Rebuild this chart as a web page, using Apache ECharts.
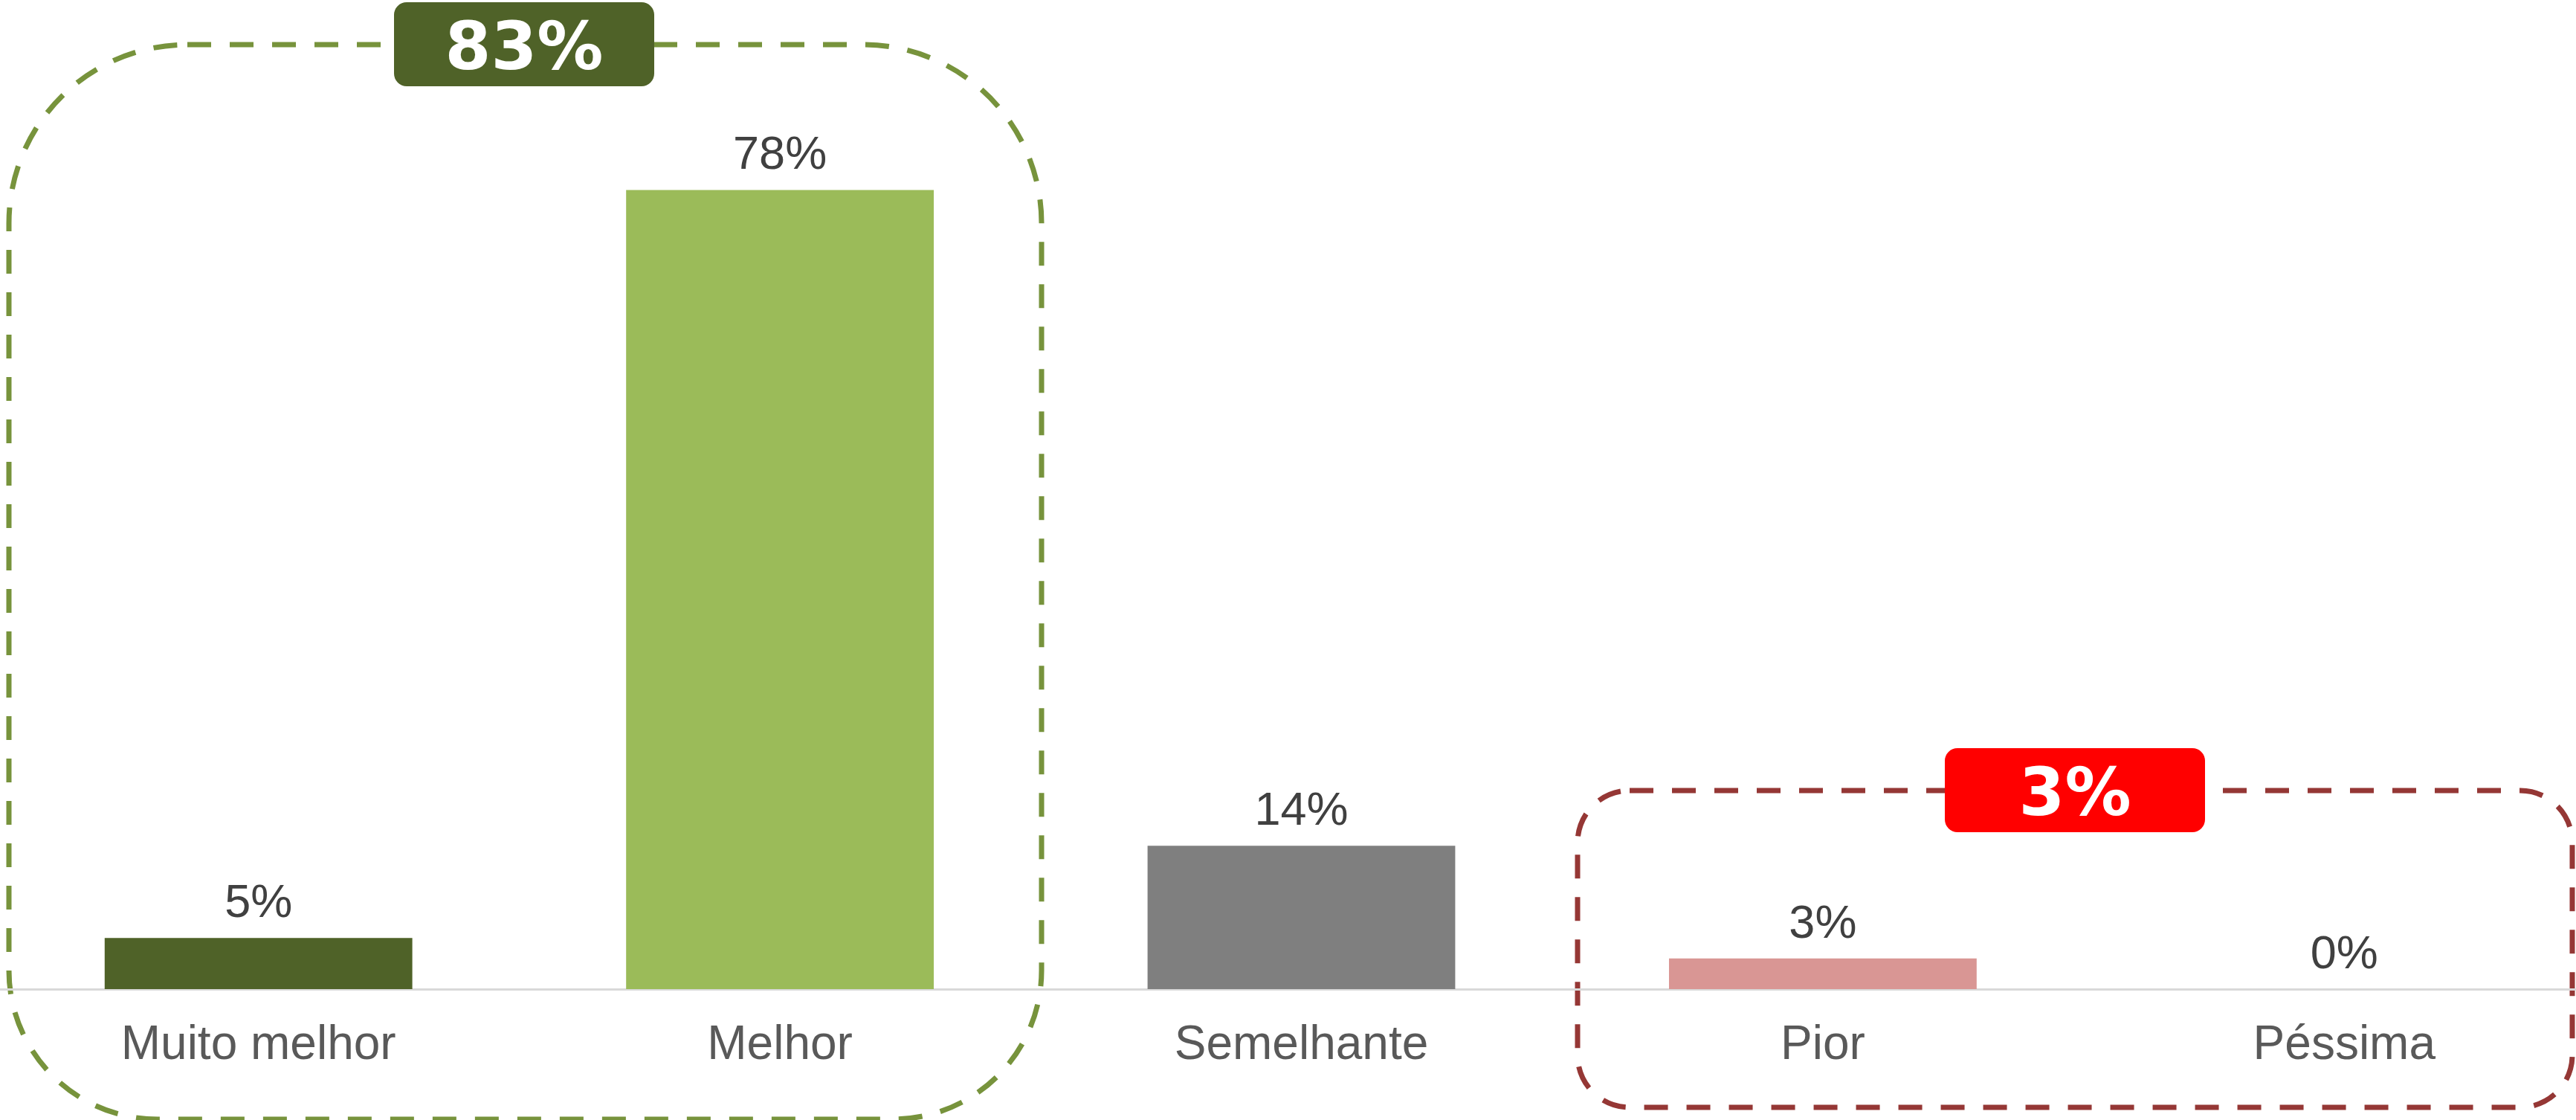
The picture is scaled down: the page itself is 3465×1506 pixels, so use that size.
<!DOCTYPE html>
<html>
<head>
<meta charset="utf-8">
<style>
  html, body { margin: 0; padding: 0; background: #fff; }
  #main { width: 3465px; height: 1506px; }
</style>
<script src="https://cdn.jsdelivr.net/npm/echarts@6/dist/echarts.min.js"></script>
</head>
<body>
<div id="main"></div>
<script>
// dados do gráfico
var categorias = ['Muito melhor', 'Melhor', 'Semelhante', 'Pior', 'Péssima'];
var valores = [5, 78, 14, 3, 0];
var cores = ['#4F6228', '#9BBB59', '#7F7F7F', '#D99694', '#C0504D'];

// totais dos grupos (positivo / negativo)
var totalBom = valores[0] + valores[1];
var totalMau = valores[3] + valores[4];

var myChart = echarts.init(document.getElementById('main'));

myChart.setOption({
    animation: false,
    backgroundColor: '#fff',
    grid: {
        left: -3,
        right: -39,
        top: 228,
        bottom: 176,
        outerBoundsMode: 'none',
        containLabel: false
    },
    xAxis: {
        type: 'category',
        data: categorias,
        axisLine: {
            show: true,
            lineStyle: { color: '#D9D9D9', width: 3 }
        },
        axisTick: { show: false },
        axisLabel: {
            color: '#595959',
            fontFamily: 'Liberation Sans',
            fontSize: 64,
            margin: 44
        }
    },
    yAxis: {
        type: 'value',
        min: 0,
        max: 80,
        show: false,
        splitLine: { show: false }
    },
    series: [{
        type: 'bar',
        barWidth: '59%',
        data: valores.map(function (v, i) {
            return { value: v, itemStyle: { color: cores[i] } };
        }),
        label: {
            show: true,
            position: 'top',
            distance: 14,
            formatter: '{c}%',
            color: '#404040',
            fontFamily: 'Liberation Sans',
            fontSize: 63
        }
    }],
    //caixas tracejadas e etiquetas dos totais
    graphic: [
        {
            type: 'rect',
            shape: { x: 12, y: 60, width: 1389, height: 1445, r: [240, 240, 200, 200] },
            style: { fill: 'none', stroke: '#77933C', lineWidth: 7, lineDash: [32, 25] }
        },
        {
            type: 'rect',
            shape: { x: 2122, y: 1063, width: 1338, height: 426, r: 70 },
            style: { fill: 'none', stroke: '#953735', lineWidth: 7, lineDash: [32, 25] }
        },
        {
            type: 'rect',
            shape: { x: 530, y: 3, width: 350, height: 113, r: 17 },
            style: { fill: '#4F6228' }
        },
        {
            type: 'text',
            x: 705, y: 70,
            style: {
                text: totalBom + '%',
                fill: '#fff',
                font: 'bold 89px "DejaVu Sans"',
                align: 'center',
                verticalAlign: 'middle'
            }
        },
        {
            type: 'rect',
            shape: { x: 2616, y: 1006, width: 350, height: 113, r: 17 },
            style: { fill: '#FF0000' }
        },
        {
            type: 'text',
            x: 2791, y: 1073,
            style: {
                text: totalMau + '%',
                fill: '#fff',
                font: 'bold 89px "DejaVu Sans"',
                align: 'center',
                verticalAlign: 'middle'
            }
        }
    ]
});
</script>
</body>
</html>
